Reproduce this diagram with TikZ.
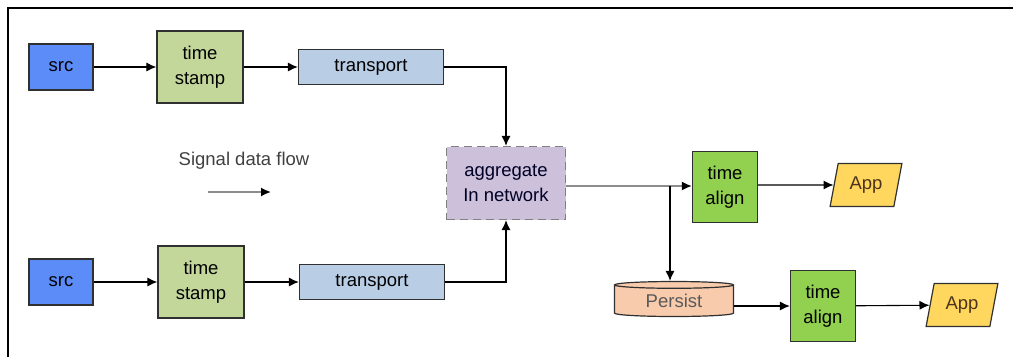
\documentclass[tikz,border=0pt]{standalone}
\usepackage{fontspec}
\setmainfont{Liberation Sans}
\usetikzlibrary{shapes.geometric,arrows.meta}
\definecolor{SrcBlue}{HTML}{5B8CF8}
\definecolor{StampGreen}{HTML}{C4D79B}
\definecolor{WireBlue}{HTML}{B9CDE5}
\definecolor{AggLilac}{HTML}{CCC0DA}
\definecolor{AlignGreen}{HTML}{92D050}
\definecolor{AppYellow}{HTML}{FFD75E}
\definecolor{DiskPeach}{HTML}{F8CBAD}
\definecolor{EdgeGray}{HTML}{303030}
\tikzset{
  blk/.style={draw=EdgeGray, line width=1.2pt, inner sep=0pt, align=center},
  arr/.style={line width=1.1pt, -{Latex[length=10pt,width=9pt,black]}},
  grayarr/.style={arr, draw=gray!90, line width=1.7pt}
}

\begin{document}
\begin{tikzpicture}[x=1pt, y=-1pt, every node/.style={font=\fontsize{18.5}{25}\selectfont}]
\useasboundingbox (0,0) rectangle (1013,357);
% Frame
\draw[line width=2pt] (8,357) -- (8,8) -- (1013,8);

% Upper path
\node[blk, fill=SrcBlue, minimum width=64pt, minimum height=46pt] (src1) at (61,67) {src};
\node[blk, fill=StampGreen, minimum width=86pt, minimum height=72pt] (ts1) at (200,67) {time\\stamp};
\node[blk, fill=WireBlue, minimum width=145pt, minimum height=35pt] (tr1) at (371,67) {transport};

% Lower path
\node[blk, fill=SrcBlue, minimum width=64pt, minimum height=46pt] (src2) at (61,282) {src};
\node[blk, fill=StampGreen, minimum width=86pt, minimum height=72pt] (ts2) at (201,282) {time\\stamp};
\node[blk, fill=WireBlue, minimum width=145pt, minimum height=35pt] (tr2) at (372,282) {transport};

% Legend
\node[text=black!75] (legend) at (244,161) {Signal data flow};
\coordinate (lgA) at (208,192);
\coordinate (lgB) at (271,192);

% Aggregation and consumers
\node[blk, draw=gray, dashed, dash pattern=on 8pt off 5pt, fill=AggLilac, text=black!85!blue, minimum width=119pt, minimum height=73pt] (agg) at (506,183) {aggregate\\In network};
\node[blk, fill=AlignGreen, minimum width=65pt, minimum height=71pt] (al1) at (725,187) {time\\align};
\node[blk, trapezium, trapezium left angle=74, trapezium right angle=106, trapezium stretches=true, fill=AppYellow, text=black!60!brown, minimum width=72pt, minimum height=43pt] (app1) at (866,185) {App};
\coordinate (split) at (670,186);
\node[blk, cylinder, shape border rotate=90, aspect=0.12, fill=DiskPeach, text=black!65, minimum width=119pt, minimum height=35pt] (db) at (674,301) {Persist};
\node[blk, fill=AlignGreen, minimum width=65pt, minimum height=71pt] (al2) at (823,306) {time\\align};
\node[blk, trapezium, trapezium left angle=74, trapezium right angle=106, trapezium stretches=true, fill=AppYellow, text=black!60!brown, minimum width=72pt, minimum height=43pt] (app2) at (962,305) {App};

% Connectors
\draw[arr] (src1) -- (ts1);
\draw[arr] (ts1) -- (tr1);
\draw[arr] (src2) -- (ts2);
\draw[arr] (ts2) -- (tr2);
\draw[arr] (tr1.east) -| (agg.north);
\draw[arr] (tr2.east) -| (agg.south);
\draw[grayarr] (lgA) -- (lgB);
\draw[grayarr] (agg.east |- split) -- (al1.west |- split);
\draw[arr] (split) -- (split |- db.north);
\draw[arr] (db.east |- al2.west) -- (al2.west);
\draw[arr] (al1.east |- app1) -- (app1.west);
\draw[arr] (al2) -- (app2);
\end{tikzpicture}
\end{document}
